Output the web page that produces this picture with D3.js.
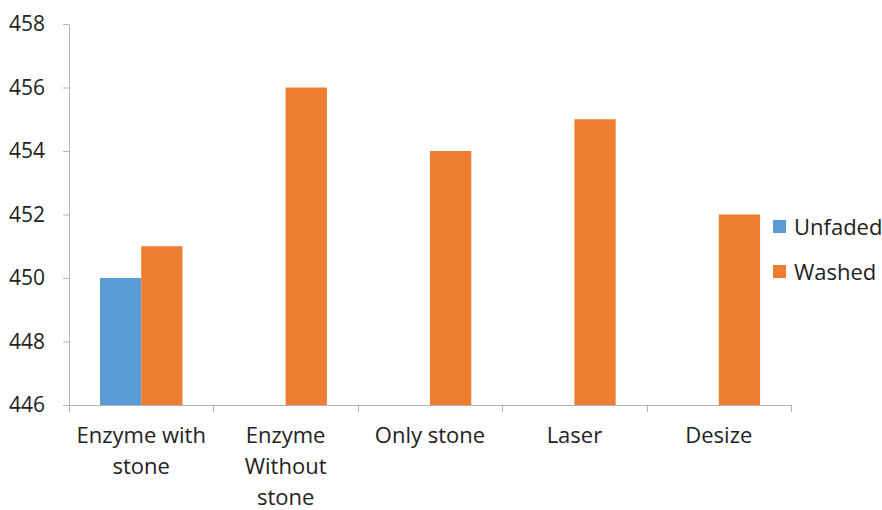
<!DOCTYPE html>
<html>
<head>
<meta charset="utf-8">
<script src="https://cdn.jsdelivr.net/npm/d3@7"></script>
<style>
  body { margin: 0; background: #fff; }
  svg text { font-family: "Open Sans", sans-serif; fill: #222; }
  .axis path, .axis line { stroke: #b3b3b3; }
</style>
</head>
<body>
<svg id="chart" width="882" height="510"></svg>
<script>
// data
const categories = ["Enzyme with stone", "Enzyme Without stone", "Only stone", "Laser", "Desize"];
const categoryLines = [["Enzyme with", "stone"], ["Enzyme", "Without", "stone"], ["Only stone"], ["Laser"], ["Desize"]];
const seriesNames = ["Unfaded", "Washed"];
const unfaded = [450, null, null, null, null];
const washed = [451, 456, 454, 455, 452];
const yTicks = [446, 448, 450, 452, 454, 456, 458];
const colors = ["#5b9bd5", "#ed7d31"];

const svg = d3.select("#chart");
const plotLeft = 69, plotRight = 791, plotTop = 24, plotBottom = 405;

var x0 = d3.scaleBand().domain(categories).range([plotLeft, plotRight]);
var x1 = d3.scaleBand().domain(seriesNames).range([0, x0.bandwidth()]).paddingOuter(0.75);
var y = d3.scaleLinear().domain([446, 458]).range([plotBottom, plotTop]);
var color = d3.scaleOrdinal().domain(seriesNames).range(colors);

// build rows for the bars
var rows = [];
categories.forEach(function(c, i){
  if (unfaded[i] != null) rows.push({cat: c, series: "Unfaded", value: unfaded[i]});
  if (washed[i] != null) rows.push({cat: c, series: "Washed", value: washed[i]});
});

// y axis
var yAxis = svg.append("g")
  .attr("class", "axis")
  .attr("transform", "translate(" + plotLeft + ",0)")
  .call(d3.axisLeft(y).tickValues(yTicks).tickSize(6).tickSizeOuter(0).tickPadding(18).tickFormat(d3.format("d")));
yAxis.selectAll("text").style("font-size", "21px");

// bars
svg.append("g").selectAll("rect")
  .data(rows)
  .enter()
  .append("rect")
  .attr("x", function(d){ return x0(d.cat) + x1(d.series); })
  .attr("y", function(d){ return y(d.value); })
  .attr("width", x1.bandwidth())
  .attr("height", function(d){ return plotBottom - y(d.value); })
  .attr("fill", function(d){ return color(d.series); });

// x axis line + boundary ticks
var xg = svg.append("g").attr("class", "axis");
xg.append("line")
  .attr("x1", plotLeft).attr("x2", plotRight)
  .attr("y1", plotBottom + 0.5).attr("y2", plotBottom + 0.5);
var bounds = categories.map(function(c){ return x0(c); }).concat([x0.range()[1]]);
xg.selectAll(".tick")
  .data(bounds)
  .enter()
  .append("line")
  .attr("x1", function(d){ return Math.round(d) + 0.5; })
  .attr("x2", function(d){ return Math.round(d) + 0.5; })
  .attr("y1", plotBottom)
  .attr("y2", plotBottom + 7);

// category labels, wrapped like the original
var labels = svg.append("g").selectAll("text")
  .data(categories)
  .enter()
  .append("text")
  .attr("text-anchor", "middle")
  .style("font-size", "22px")
  .attr("x", function(d){ return x0(d) + x0.bandwidth() / 2; })
  .attr("y", 443);
labels.each(function(d, i){
  var t = d3.select(this);
  categoryLines[i].forEach(function(line, j){
    t.append("tspan")
      .attr("x", x0(d) + x0.bandwidth() / 2)
      .attr("y", 443 + j * 31)
      .text(line);
  });
});

// legend
var legend = svg.append("g").attr("transform", "translate(773,220)");
var items = legend.selectAll("g")
  .data(seriesNames)
  .enter()
  .append("g")
  .attr("transform", function(d, i){ return "translate(0," + (i * 45) + ")"; });
items.append("rect")
  .attr("width", 13).attr("height", 13)
  .attr("fill", function(d){ return color(d); });
items.append("text")
  .attr("x", 21).attr("y", 14.5)
  .style("font-size", "22px")
  .text(function(d){ return d; });
</script>
</body>
</html>
